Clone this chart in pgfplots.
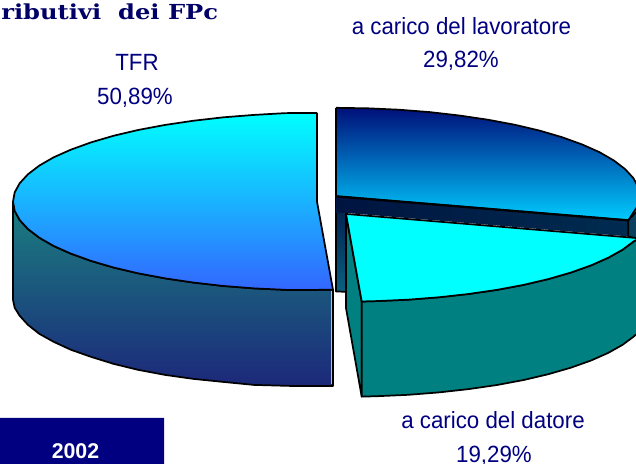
\documentclass[border=0pt]{standalone}
\usepackage{pgfplots}
\pgfplotsset{compat=1.18}
\usepackage{fontspec}
\setmainfont{Liberation Sans}
\newfontfamily\titlefont{DejaVu Serif}

\definecolor{navytxt}{HTML}{000080}
\definecolor{titletxt}{HTML}{000066}

\tikzset{
  lbl/.style={font=\fontsize{17.6}{20}\selectfont, text=navytxt, xscale=.95, inner sep=0pt, anchor=center},
}

\begin{document}
\begin{tikzpicture}
\useasboundingbox (0,0) rectangle (477pt,348pt);
\begin{axis}[
    at={(0,0)}, anchor=south west,
    scale only axis, width=477pt, height=348pt,
    xmin=0, xmax=636, ymin=0, ymax=464, y dir=reverse,
    hide axis, clip=true,
    every axis plot/.append style={no markers, sharp plot, line join=round, draw=black, line width=1.3pt},
]
% TFR, side
\addplot[shade, top color={rgb,255:red,26;green,128;blue,128}, bottom color={rgb,255:red,28;green,40;blue,122}] coordinates {
  (13,202) (13,300) (14.7,308) (19.7,316) (27.9,325) (39.3,334) (53.7,342) (71.1,350) (91.1,357) (113.6,364) (138.3,370) (165,375) (193.4,379) (223.1,382) (253.8,385) (290,386) (333,386) (333,290)
  (290,290.3) (253.8,288.6) (223.1,286.2) (193.4,282.8) (165,278.6) (138.3,273.6) (113.6,267.8) (91.1,261.2) (71.1,254) (53.7,246.3) (39.3,238) (27.9,229.3) (19.7,220.4) (14.7,211.3) (13,202)
};
% TFR, top face
\addplot[shade, top color={rgb,255:red,0;green,255;blue,255}, bottom color={rgb,255:red,51;green,102;blue,255}] coordinates {
  (317,113.4) (285.2,113.6) (253.8,115.4) (223.1,117.8) (193.4,121.2) (165,125.4) (138.3,130.4) (113.6,136.2) (91.1,142.8) (71.1,150) (53.7,157.7) (39.3,166) (27.9,174.7) (19.7,183.6) (14.7,192.7) (13,202)
  (14.7,211.3) (19.7,220.4) (27.9,229.3) (39.3,238) (53.7,246.3) (71.1,254) (91.1,261.2) (113.6,267.8) (138.3,273.6) (165,278.6) (193.4,282.8) (223.1,286.2) (253.8,288.6) (290,290.3) (333,290)
  (317,202) (317,113.4)
};
\addplot[draw=lightgray, line width=.7pt] coordinates {(331.8,291) (331.8,384.6)};
% lavoratore, top face
\addplot[shade, top color={rgb,255:red,0;green,16;blue,122}, bottom color={rgb,255:red,0;green,204;blue,255}] coordinates {
  (336,108.3) (367.8,108.8) (399.2,110.2) (429.9,112.6) (459.6,116) (488,120.2) (514.7,125.2) (539.4,131) (561.9,137.6) (581.9,144.8) (599.3,152.5) (613.7,160.8) (625.1,169.5) (633.3,178.4) (638.3,187.5)
  (640,197) (638,206) (632,215) (628.3,220.7) (336,196.7) (336,108.3)
};
% lavoratore, sides
\addplot[shade, top color={rgb,255:red,0;green,24;blue,72}, bottom color={rgb,255:red,10;green,96;blue,128}] coordinates {
  (336,196.7) (336,291.7) (346,292) (346,213) (336,196.7)
};
\addplot[draw=none, shade, left color={rgb,255:red,0;green,20;blue,64}, right color={rgb,255:red,0;green,44;blue,80}] coordinates {
  (336,196.7) (628.3,220.7) (628.3,236.7) (346,213.3) (336,213.3) (336,196.7)
};
\addplot[fill={rgb,255:red,10;green,64;blue,96}] coordinates {
  (628.3,220.7) (640,208) (640,240) (628.3,236.7) (628.3,220.7)
};
\addplot[line width=1.7pt] coordinates {(336,196.7) (628.3,220.7)};
% datore, sides
\addplot[fill={rgb,255:red,0;green,128;blue,128}] coordinates {
  (346,214.3) (361.7,301.7) (361.7,396.7) (346,308.3) (346,214.3)
};
\addplot[fill={rgb,255:red,0;green,128;blue,128}] coordinates {
  (361.7,301.7) (361.7,396.7) (376.8,396.3) (408.2,394.9) (438.9,392.5) (468.6,389.2) (497,385.1) (523.7,380.1) (548.4,374.3) (570.9,367.8) (590.9,360.7) (608.3,353) (622.7,344.9) (634.1,336.4) (640,331)
  (640,238.6) (634.1,241.4) (622.7,249.9) (608.3,258) (590.9,265.7) (570.9,272.8) (548.4,279.3) (523.7,285.1) (497,290.1) (468.6,294.2) (438.9,297.5) (408.2,299.9) (376.8,301.3) (361.7,301.7)
};
% datore, top face
\addplot[fill={rgb,255:red,0;green,255;blue,255}] coordinates {
  (346,214.3) (640,238.6) (634.1,241.4) (622.7,249.9) (608.3,258) (590.9,265.7) (570.9,272.8) (548.4,279.3) (523.7,285.1) (497,290.1) (468.6,294.2) (438.9,297.5) (408.2,299.9) (376.8,301.3) (361.7,301.7) (346,214.3)
};
% box
\addplot[draw=none, fill=navytxt] coordinates {(-2,418) (164,418) (164,470) (-2,470) (-2,418)};

\node[lbl] at (axis cs:137,63) {TFR};
\node[lbl] at (axis cs:135,98.5) {50,89\%};
\node[lbl] at (axis cs:461.5,27) {a carico del lavoratore};
\node[lbl] at (axis cs:461,61) {29,82\%};
\node[lbl] at (axis cs:493,420) {a carico del datore};
\node[lbl] at (axis cs:494,455.5) {19,29\%};
\node[font=\fontsize{16}{18}\selectfont\bfseries, text=white, inner sep=0pt] at (axis cs:75.5,451) {2002};
\node[font=\titlefont\fontsize{15.5}{19}\selectfont\bfseries, text=titletxt, inner sep=0pt, anchor=base west, xscale=1.17] at (axis cs:1,20.5) {ributivi\ \ dei FPc};
\end{axis}
\end{tikzpicture}
\end{document}
